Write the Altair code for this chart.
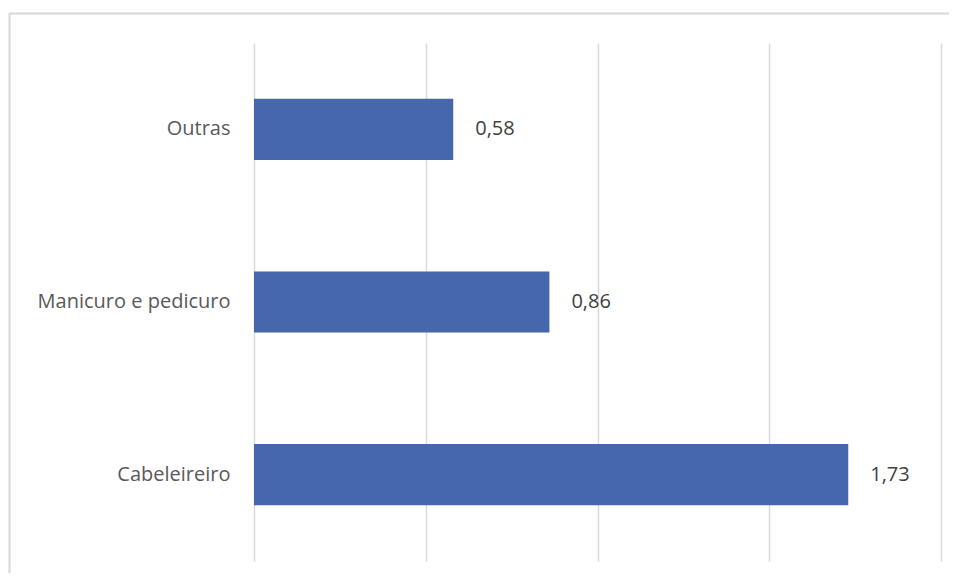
import altair as alt
import pandas as pd

categories = ["Outras", "Manicuro e pedicuro", "Cabeleireiro"]
values = [0.58, 0.86, 1.73]
x_ticks = [0, 0.5, 1.0, 1.5, 2.0]

df = pd.DataFrame({"cat": categories, "v": values})

FONT = "Open Sans"
GRID = "#d9d9d9"

y_enc = alt.Y(
    "cat:N",
    sort=categories,
    title=None,
    scale=alt.Scale(paddingInner=0.646, paddingOuter=0.323),
    axis=alt.Axis(
        domain=False, ticks=False, labelPadding=24, labelFontSize=20,
        labelColor="#595959", labelFont=FONT, grid=False, labelLimit=300,
    ),
)
x_enc = alt.X(
    "v:Q",
    title=None,
    scale=alt.Scale(domain=[0, 2], nice=False),
    axis=alt.Axis(
        values=x_ticks, labels=False, ticks=False, domain=False,
        grid=True, gridColor=GRID, gridWidth=1.5,
    ),
)

bars = alt.Chart(df).mark_bar(color="#4767AD").encode(x=x_enc, y=y_enc)

text = alt.Chart(df).transform_calculate(
    lbl="replace(format(datum.v, '.2f'), '.', ',')"
).mark_text(
    align="left", dx=22, fontSize=20, font=FONT, color="#404040"
).encode(x="v:Q", y=alt.Y("cat:N", sort=categories), text="lbl:N")

border_left = alt.Chart(df).mark_rule(color=GRID, strokeWidth=1.5).encode(
    x=alt.value(-244.5), y=alt.value(-29.5), y2=alt.value(540)
)
border_top = alt.Chart(df).mark_rule(color=GRID, strokeWidth=1.5).encode(
    x=alt.value(-244.5), x2=alt.value(700), y=alt.value(-29.5)
)

chart = alt.layer(bars, text, border_left, border_top).properties(
    width=687,
    height=518,
    autosize=alt.AutoSizeParams(type="none"),
    padding={"left": 246, "top": 35, "right": 8, "bottom": 12},
).configure_view(stroke=None)

chart.save("out.html", embed_options={"renderer": "svg", "actions": False})
